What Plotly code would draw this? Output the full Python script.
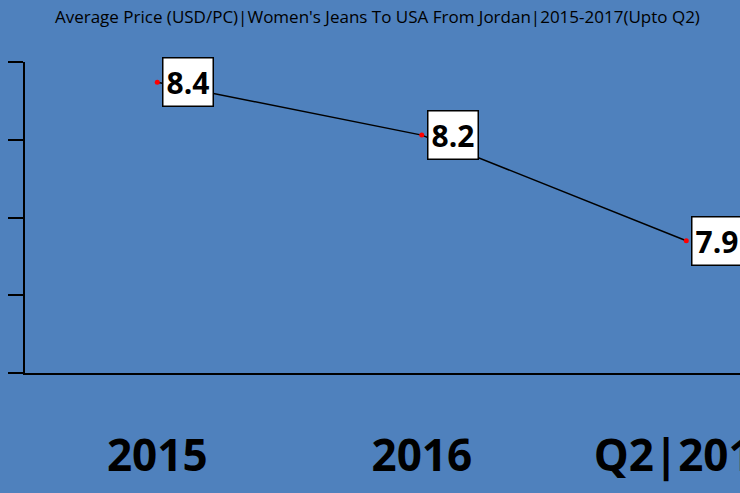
import plotly.graph_objects as go

categories = ["2015", "2016", "Q2|2017"]
avg_price = [8.40, 8.23, 7.89]
title_text = "Average Price (USD/PC)|Women's Jeans To USA From Jordan|2015-2017(Upto Q2)"

BG = "#4F81BD"

fig = go.Figure()
fig.add_trace(go.Scatter(
    x=categories, y=avg_price, mode="lines+markers",
    line=dict(color="black", width=1.5),
    marker=dict(color="red", size=5),
    cliponaxis=False, hoverinfo="skip",
))

for i, v in enumerate(avg_price):
    fig.add_annotation(
        x=i, y=v, xref="x", yref="y", text=f"<b>{v:.1f}</b>",
        showarrow=False, xanchor="left", yanchor="middle", xshift=5,
        font=dict(family="Open Sans", size=30, color="black"),
        bgcolor="white", bordercolor="black", borderwidth=1.5, borderpad=3,
    )

fig.update_layout(
    width=740, height=493,
    margin=dict(l=25, r=0, t=62, b=120, autoexpand=False),
    paper_bgcolor=BG, plot_bgcolor=BG,
    showlegend=False,
    title=dict(text=title_text, x=0.51, xanchor="center", y=0.965, yanchor="middle",
               font=dict(family="Open Sans", size=17, color="black")),
    xaxis=dict(
        type="category", range=[-0.5, 2.203], automargin=False,
        showgrid=False, zeroline=False,
        showline=True, linecolor="black", linewidth=2,
        ticks="", ticklabelstandoff=43,
        tickfont=dict(family="Open Sans", size=44, color="black", weight="bold"),
    ),
    yaxis=dict(
        range=[7.4649, 8.4651], tick0=7.465, dtick=0.25, automargin=False,
        showgrid=False, zeroline=False, showticklabels=False,
        showline=True, linecolor="black", linewidth=2,
        ticks="outside", ticklen=15, tickwidth=2, tickcolor="black",
    ),
)

fig.write_html("out.html", config={"displayModeBar": False},
               post_script="document.body.style.margin='0';")
